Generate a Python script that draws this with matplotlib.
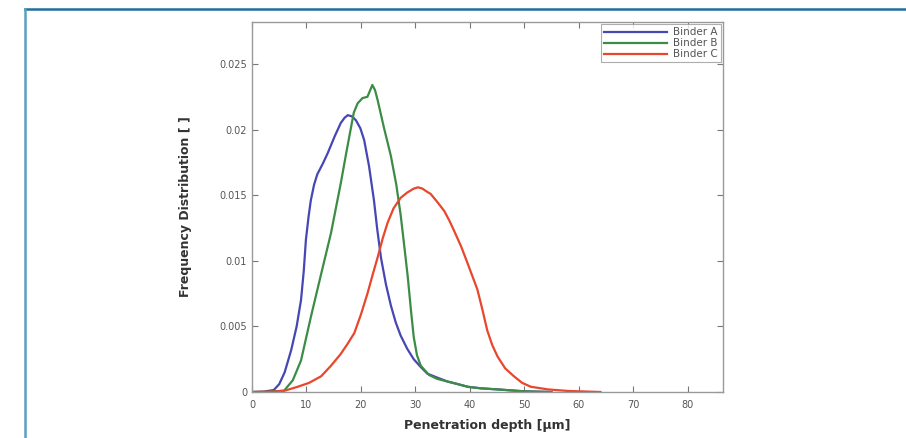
import matplotlib.pyplot as plt
from matplotlib.lines import Line2D
import numpy as np

# values
x_a = [0, 2, 4, 5.0, 6.0, 7.2, 8.2, 9.0, 9.5, 9.9, 10.4, 10.8, 11.4, 12.0, 13.0, 13.9, 15.2,
       16.3, 17.0, 17.6, 18.4, 19.1, 19.9, 20.6, 21.5, 22.4, 23.0, 23.7, 24.6, 25.5, 26.4,
       27.3, 28.5, 29.7, 31.0, 32.2, 34.0, 35.9, 37.8, 39.6, 42, 45, 50, 55]
y_a = [0, 0.00002, 0.00015, 0.0006, 0.0015, 0.0032, 0.005, 0.0070, 0.0092, 0.0116, 0.0134,
       0.0146, 0.0158, 0.0166, 0.0174, 0.0182, 0.0195, 0.0205, 0.0209, 0.0211, 0.0210,
       0.0207, 0.0201, 0.0192, 0.0172, 0.0146, 0.0124, 0.0102, 0.0082, 0.0066, 0.0053,
       0.0043, 0.0033, 0.0025, 0.0019, 0.0014, 0.0011, 0.0008, 0.0006, 0.0004, 0.00028,
       0.0002, 0.00005, 0]

x_b = [0, 3, 5.9, 7.5, 9.0, 10.8, 12.7, 14.5, 16.3, 17.3, 18.2, 18.7, 19.4, 20.3, 21.2,
       21.7, 22.1, 22.6, 23.1, 24.2, 25.5, 26.5, 27.3, 28.0, 28.6, 29.2, 29.7, 30.3, 31,
       32.5, 34.0, 35.9, 37.8, 39.6, 42, 45, 50, 55]
y_b = [0, 0.00002, 0.0001, 0.0009, 0.0024, 0.0057, 0.0090, 0.0121, 0.0159, 0.0182, 0.0202,
       0.0213, 0.0220, 0.0224, 0.0225, 0.0230, 0.0234, 0.0230, 0.0222, 0.0202, 0.0180,
       0.0158, 0.0135, 0.0110, 0.0088, 0.0062, 0.0042, 0.0028, 0.0020, 0.0013, 0.0010,
       0.0008, 0.0006, 0.0004, 0.00028, 0.0002, 0.00005, 0]

x_c = [0, 4, 6, 8.4, 10.5, 12.7, 14.5, 16.3, 17.6, 18.8, 20.0, 21.2, 22.2, 23.1, 24.0,
       24.9, 26.0, 27.3, 28.5, 29.7, 30.5, 31.3, 32.0, 32.8, 34.0, 35.3, 36.2, 37.1, 38.4,
       39.6, 40.5, 41.4, 42.3, 43.2, 44.1, 45.1, 46.5, 48.1, 49.6, 51.2, 54.3, 58, 64]
y_c = [0, 0.00003, 0.0001, 0.0004, 0.0007, 0.0012, 0.0020, 0.0029, 0.0037, 0.0045, 0.0059,
       0.0075, 0.0090, 0.0103, 0.0117, 0.0129, 0.0140, 0.0148, 0.0152, 0.0155, 0.0156,
       0.0155, 0.0153, 0.0151, 0.0145, 0.0138, 0.0131, 0.0123, 0.0111, 0.0098, 0.0088,
       0.0078, 0.0063, 0.0047, 0.0036, 0.0027, 0.0018, 0.0012, 0.0007, 0.0004, 0.0002,
       0.00008, 0]

labels = ["Binder A", "Binder B", "Binder C"]
colors = ["#4646b4", "#3c8c46", "#e8462d"]

x_ticks = [0, 10, 20, 30, 40, 50, 60, 70, 80]
y_ticks = [0, 0.005, 0.01, 0.015, 0.02, 0.025]
y_tick_labels = ["0", "0.005", "0.01", "0.015", "0.02", "0.025"]

fig = plt.figure(figsize=(9.06, 4.38), dpi=100)
ax = fig.add_axes([252 / 906, 46 / 438, 471 / 906, 370 / 438])

for xs, ys, lab, col in zip([x_a, x_b, x_c], [y_a, y_b, y_c], labels, colors):
    ax.plot(xs, ys, color=col, lw=1.6, label=lab)

ax.set_xlim(0, 86.5)
ax.set_ylim(0, 0.0282)
ax.set_xticks(x_ticks)
ax.set_yticks(y_ticks)
ax.set_yticklabels(y_tick_labels)
ax.tick_params(direction="in", top=True, right=True, labelsize=7, colors="#777777",
               labelcolor="#555555", length=4, width=0.8)
ax.tick_params(axis="x", pad=6)
for s in ax.spines.values():
    s.set_color("#999999")
    s.set_linewidth(1.0)

ax.set_xlabel("Penetration depth [µm]", fontsize=9, fontweight="bold", color="#333333", labelpad=6)
ax.set_ylabel("Frequency Distribution [ ]", fontsize=9, fontweight="bold", color="#333333", labelpad=20)

leg = ax.legend(loc="upper right", fontsize=7.5, frameon=True, fancybox=False, handlelength=6,
                borderaxespad=0.2, labelspacing=0.1, borderpad=0.3, handletextpad=0.6)
leg.get_frame().set_edgecolor("#999999")
leg.get_frame().set_linewidth(0.8)
for t in leg.get_texts():
    t.set_color("#555555")

# blue frame around the figure (top and left edges)
W, H = 906, 438
fig.add_artist(Line2D([25 / W, 1], [1 - 9 / H, 1 - 9 / H], transform=fig.transFigure,
                      color="#1f6e9e", lw=1.8))
fig.add_artist(Line2D([25 / W, 25 / W], [0, 1 - 9 / H], transform=fig.transFigure,
                      color="#5a9fc0", lw=1.8))

fig.savefig("out.png", dpi=100)
